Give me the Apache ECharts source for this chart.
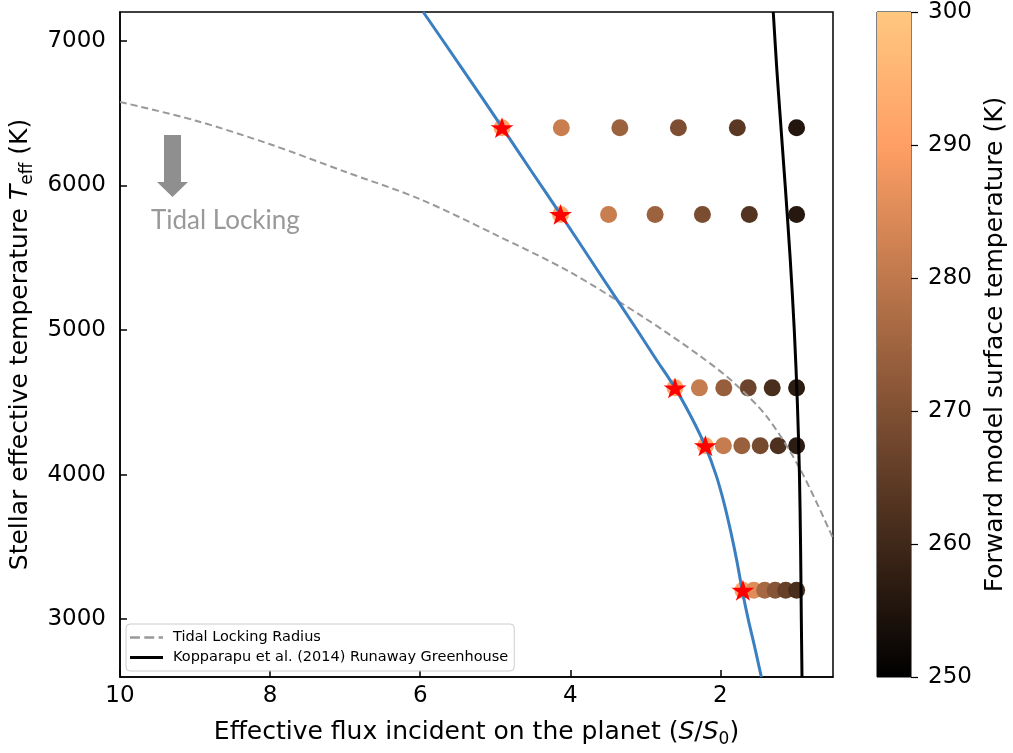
<!DOCTYPE html>
<html>
<head>
<meta charset="utf-8">
<script src="https://cdn.jsdelivr.net/npm/echarts@6/dist/echarts.min.js"></script>
<style>html,body{margin:0;padding:0;background:#fff}#c{width:1013px;height:753px}</style>
</head>
<body>
<div id="c"></div>
<script>
// ---- data ----
const teffRows = [6400, 5800, 4600, 4200, 3200];
const modelFlux = [
  [4.91, 4.12, 3.34, 2.56, 1.775, 0.985],
  [4.13, 3.49, 2.87, 2.24, 1.615, 0.985],
  [2.605, 2.28, 1.955, 1.63, 1.31, 0.985],
  [2.20, 1.96, 1.715, 1.47, 1.23, 0.985],
  [1.70, 1.555, 1.41, 1.27, 1.13, 0.985]
];
const modelTemp = [
  [292, 281.5, 274.5, 269.5, 264, 255.5],
  [292, 281.5, 274.5, 269, 263, 256],
  [292, 281, 273.5, 267, 261.5, 257],
  [292, 281, 274, 268.5, 262, 257],
  [292, 285, 276, 271, 266, 261.5]
];
const blueTeff = [7200, 6800, 6400, 6100, 5800, 5400, 5000, 4800, 4600, 4400, 4200, 4000, 3800, 3600, 3400, 3200, 3000, 2800, 2600];
const blueFlux = [5.96, 5.43, 4.906, 4.52, 4.13, 3.62, 3.11, 2.86, 2.605, 2.39, 2.205, 2.06, 1.95, 1.86, 1.78, 1.71, 1.63, 1.54, 1.455];
const tidalFlux = [10, 9, 8, 7, 6, 5, 4, 3, 2.27, 1.83, 1.38, 0.94, 0.5];
const tidalTeff = [6578, 6450, 6285, 6095, 5905, 5660, 5400, 5080, 4820, 4640, 4400, 4040, 3560];
const kopTeff = [7200, 6800, 6500, 6200, 6000, 5500, 5000, 4500, 4000, 3500, 3000, 2600];
const kopFlux = [1.296, 1.248, 1.207, 1.165, 1.137, 1.071, 1.016, 0.975, 0.947, 0.932, 0.922, 0.913];
const xTicks = [2, 4, 6, 8, 10];
const yTicks = [3000, 4000, 5000, 6000, 7000];
const cbMin = 250, cbMax = 300, cbStep = 10;
const copper = ['#000000', '#402819', '#805033', '#bf784c', '#ff9f65', '#ffc77f'];

// ---- build ----
const dots = [];
const stars = [];
teffRows.forEach((t, i) => {
  modelFlux[i].forEach((s, j) => dots.push([s, t, modelTemp[i][j]]));
  stars.push([modelFlux[i][0], t]);
});
const zip = (xs, ys) => xs.map((x, i) => [x, ys[i]]);
const FONT = 'DejaVu Sans';
const FS = 23;   // tick labels
const TS = 25;   // axis titles
const STAR = 'path://M0,-1L0.2245,-0.309L0.951,-0.309L0.363,0.118L0.588,0.809L0,0.382L-0.588,0.809L-0.363,0.118L-0.951,-0.309L-0.2245,-0.309Z';
const plain = v => String(v);
const richName = {
  n: {fontSize: TS, fontFamily: FONT, color: '#000', lineHeight: 32},
  i: {fontSize: TS, fontFamily: FONT, fontStyle: 'italic', color: '#000', lineHeight: 32},
  s: {fontSize: 17, fontFamily: FONT, color: '#000', lineHeight: 17, verticalAlign: 'bottom'}
};

const chart = echarts.init(document.getElementById('c'), null, {renderer: 'canvas'});
chart.setOption({
  animation: false,
  backgroundColor: '#fff',
  textStyle: {fontFamily: FONT},
  grid: [
    {left: 120, top: 12, width: 713, height: 665, show: true, borderColor: '#000', borderWidth: 1.5, backgroundColor: 'transparent'},
    {left: 877, top: 12, width: 34, height: 665, show: true, borderColor: '#000', borderWidth: 1, backgroundColor: 'transparent'}
  ],
  xAxis: [
    {
      type: 'value', gridIndex: 0, inverse: true, min: 0.5, max: 10,
      name: '{n|Effective flux incident on the planet (}{i|S}{n|/}{i|S}{s|0}{n|)}',
      nameLocation: 'middle', nameGap: 39,
      nameTextStyle: {rich: richName},
      axisLine: {show: true, onZero: false, lineStyle: {color: '#000', width: 1.5}},
      axisTick: {show: true, inside: true, length: 7, customValues: xTicks, lineStyle: {color: '#000', width: 1.5}},
      axisLabel: {customValues: xTicks, fontSize: FS, color: '#000', margin: 8, fontFamily: FONT, formatter: plain},
      splitLine: {show: false}
    },
    {type: 'category', gridIndex: 1, data: ['cb'], show: false}
  ],
  yAxis: [
    {
      type: 'value', gridIndex: 0, min: 2600, max: 7200,
      name: '{n|Stellar effective temperature }{i|T}{s|eff}{n| (K)}',
      nameLocation: 'middle', nameGap: 77, nameRotate: 90,
      nameTextStyle: {rich: richName},
      axisLine: {show: true, onZero: false, lineStyle: {color: '#000', width: 1.5}},
      axisTick: {show: true, inside: true, length: 7, customValues: yTicks, lineStyle: {color: '#000', width: 1.5}},
      axisLabel: {customValues: yTicks, fontSize: FS, color: '#000', margin: 14, fontFamily: FONT, formatter: plain},
      splitLine: {show: false}
    },
    {
      type: 'value', gridIndex: 1, position: 'right', min: cbMin, max: cbMax, interval: cbStep,
      name: 'Forward model surface temperature (K)',
      nameLocation: 'middle', nameGap: 72, nameRotate: 90,
      nameTextStyle: {fontSize: TS, color: '#000', fontFamily: FONT},
      axisLine: {show: false},
      axisTick: {show: true, inside: false, length: 7, lineStyle: {color: '#000', width: 1.2}},
      axisLabel: {fontSize: FS, color: '#000', margin: 17, fontFamily: FONT, formatter: plain},
      splitLine: {show: false}
    }
  ],
  visualMap: {
    type: 'continuous', show: false, seriesIndex: 0, dimension: 2,
    min: cbMin, max: cbMax, inRange: {color: copper}
  },
  legend: {
    orient: 'vertical', left: 126, top: 624,
    data: [
      {name: 'Tidal Locking Radius', icon: 'path://M0,0H9V2.2H0Z M13,0H22V2.2H13Z M26,0H30V2.2H26Z'},
      {name: 'Kopparapu et al. (2014) Runaway Greenhouse', icon: 'path://M0,0H33V3.2H0Z'}
    ],
    itemWidth: 33, itemHeight: 12, itemGap: 5,
    padding: [6, 6, 6, 4],
    backgroundColor: 'rgba(255,255,255,0.8)', borderColor: '#cccccc', borderWidth: 1, borderRadius: 4,
    textStyle: {fontSize: 14.5, color: '#000', fontFamily: FONT, padding: [0, 0, 0, 5]}
  },
  graphic: [
    {type: 'polygon', z: 10, shape: {points: [[164,135],[181,135],[181,182],[188,182],[172.5,197],[157,182],[164,182]]}, style: {fill: '#8f8f8f'}},
    {type: 'text', z: 10, x: 151, y: 221, style: {text: 'Tidal Locking', font: '26px Lato', fill: '#999999', verticalAlign: 'middle', textVerticalAlign: 'middle'}}
  ],
  series: [
    {
      type: 'scatter', name: 'model', xAxisIndex: 0, yAxisIndex: 0, z: 2,
      symbol: 'circle', symbolSize: 17, data: dots, silent: true, itemStyle: {opacity: 1}
    },
    {
      type: 'line', name: 'Tidal Locking Radius', xAxisIndex: 0, yAxisIndex: 0, z: 3,
      data: zip(tidalFlux, tidalTeff), smooth: 0.3, symbol: 'none', showSymbol: false,
      lineStyle: {color: '#999999', width: 2, type: [7, 4]}, itemStyle: {color: '#999999'}
    },
    {
      type: 'line', name: 'Kopparapu et al. (2014) Runaway Greenhouse', xAxisIndex: 0, yAxisIndex: 0, z: 3,
      data: zip(kopFlux, kopTeff), smooth: 0.3, symbol: 'none', showSymbol: false,
      lineStyle: {color: '#000000', width: 3}, itemStyle: {color: '#000000'}
    },
    {
      type: 'line', name: 'hz', xAxisIndex: 0, yAxisIndex: 0, z: 3,
      data: zip(blueFlux, blueTeff), smooth: 0.3, symbol: 'none', showSymbol: false,
      lineStyle: {color: '#3a7fbf', width: 3}, itemStyle: {color: '#3a7fbf'}
    },
    {
      type: 'scatter', name: 'stars', xAxisIndex: 0, yAxisIndex: 0, z: 4,
      symbol: STAR, symbolSize: [23, 22], symbolKeepAspect: true, data: stars,
      itemStyle: {color: '#ff0000', opacity: 1}, silent: true
    },
    {
      type: 'bar', name: 'cbBase', xAxisIndex: 1, yAxisIndex: 1, stack: 'cb', barWidth: '100%',
      data: [cbMin], itemStyle: {color: 'rgba(0,0,0,0)'}, silent: true
    },
    {
      type: 'bar', name: 'cbBar', xAxisIndex: 1, yAxisIndex: 1, stack: 'cb', barWidth: '100%',
      data: [cbMax - cbMin], silent: true,
      itemStyle: {color: new echarts.graphic.LinearGradient(0, 0, 0, 1, [
        {offset: 0, color: copper[5]}, {offset: 0.2, color: copper[4]}, {offset: 0.4, color: copper[3]},
        {offset: 0.6, color: copper[2]}, {offset: 0.8, color: copper[1]}, {offset: 1, color: copper[0]}
      ])}
    }
  ]
});
</script>
</body>
</html>
